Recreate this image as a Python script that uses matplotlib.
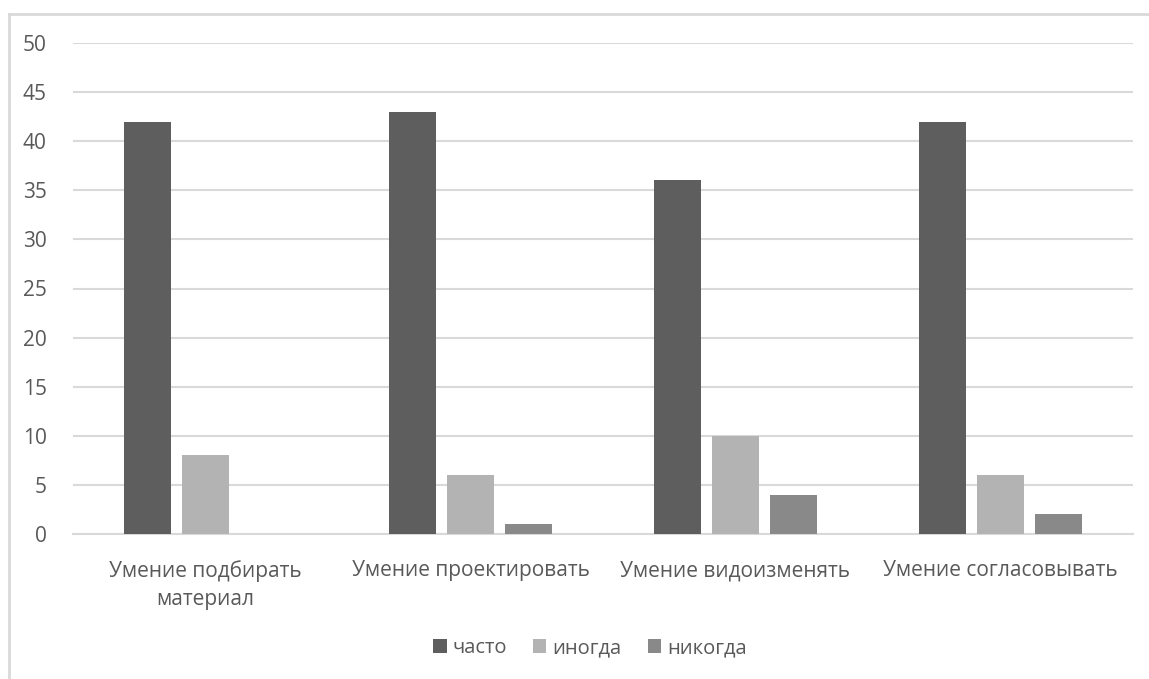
import numpy as np
import matplotlib.pyplot as plt
from matplotlib.lines import Line2D

plt.rcParams['font.family'] = ['Open Sans', 'DejaVu Sans']

categories = ['Умение подбирать\nматериал', 'Умение проектировать',
              'Умение видоизменять', 'Умение согласовывать']
series_names = ['часто', 'иногда', 'никогда']
often = [42, 43, 36, 42]
sometimes = [8, 6, 10, 6]
never = [0, 1, 4, 2]
yticks = [0, 5, 10, 15, 20, 25, 30, 35, 40, 45, 50]

colors = ['#5e5e5e', '#b3b3b3', '#898989']
text_color = '#595959'
grid_color = '#d9d9d9'

W, H = 1149, 679
fig = plt.figure(figsize=(W / 100, H / 100), dpi=100)
ax = fig.add_axes([73 / W, 1 - 534 / H, (1133 - 73) / W, (534 - 43) / H])

x = np.arange(len(categories))
width = 0.177
step = 0.22
for i, (vals, name) in enumerate(zip([often, sometimes, never], series_names)):
    ax.bar(x + (i - 1) * step, vals, width, color=colors[i], label=name, zorder=3)

ax.set_xlim(-0.5, len(categories) - 0.5)
ax.set_ylim(0, 50)
ax.set_yticks(yticks)
ax.set_xticks(x)
ax.set_xticklabels(categories, linespacing=1.45)
ax.yaxis.grid(True, color=grid_color, linewidth=1.5, zorder=0)
for side in ['top', 'right', 'left']:
    ax.spines[side].set_visible(False)
ax.spines['bottom'].set_color(grid_color)
ax.spines['bottom'].set_linewidth(1.5)
ax.tick_params(axis='both', length=0, labelsize=15, colors=text_color)
ax.tick_params(axis='y', pad=19)
ax.tick_params(axis='x', pad=19)

leg = fig.legend(loc='center', bbox_to_anchor=(590 / W, 1 - 648 / H), ncol=3,
                 frameon=False, fontsize=14.5, handlelength=0.65, handleheight=0.65,
                 handletextpad=0.3, columnspacing=1.3)
for t in leg.get_texts():
    t.set_color(text_color)

# chart area border (top and left edges visible)
fig.add_artist(Line2D([9 / W, 1], [1 - 14 / H, 1 - 14 / H], color=grid_color,
                      linewidth=2, transform=fig.transFigure))
fig.add_artist(Line2D([9 / W, 9 / W], [0, 1 - 14 / H], color=grid_color,
                      linewidth=2, transform=fig.transFigure))

fig.savefig('out.png', dpi=100)
